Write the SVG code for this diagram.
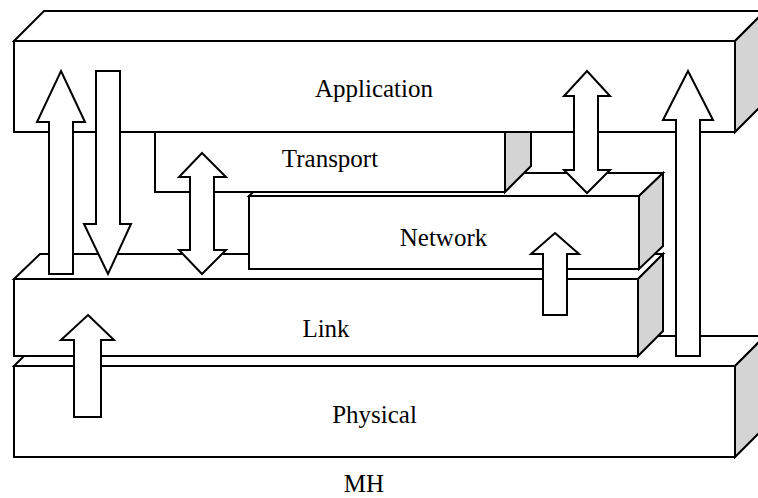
<svg xmlns="http://www.w3.org/2000/svg" width="758" height="498" viewBox="0 0 758 498">
<style>
.f{fill:#ffffff;stroke:#000000;stroke-width:2;stroke-linejoin:miter}
.s{fill:#d4d4d4;stroke:#000000;stroke-width:2;stroke-linejoin:miter}
.a{fill:#ffffff;stroke:#000000;stroke-width:2;stroke-linejoin:miter}
text{font-family:"Liberation Serif","Times New Roman",serif;font-size:25px;fill:#000000;text-anchor:middle}
</style>
<rect width="758" height="498" fill="#ffffff"/>
<g id="physical">
<polygon class="f" points="14,366 44,336 765,336 735,366"/>
<polygon class="s" points="735,366 765,336 765,427 735,457"/>
<rect class="f" x="14" y="366" width="721" height="91"/>
<text x="374.5" y="423">Physical</text>
</g>
<g id="link">
<polygon class="f" points="14,279 40,254 663,254 638,279"/>
<polygon class="s" points="638,279 663,254 663,331 638,356"/>
<rect class="f" x="14" y="279" width="624" height="77"/>
<text x="326" y="337">Link</text>
</g>
<g id="network">
<polygon class="f" points="249,196 273,173 663,173 639,196"/>
<polygon class="s" points="639,196 663,173 663,246 639,269"/>
<rect class="f" x="249" y="196" width="390" height="73"/>
<text x="443.5" y="246">Network</text>
</g>
<g id="transport">
<polygon class="f" points="155,132 181,106 531,106 505,132"/>
<polygon class="s" points="505,132 531,106 531,166 505,192"/>
<rect class="f" x="155" y="132" width="350" height="60"/>
<text x="330" y="167">Transport</text>
</g>
<g id="application">
<polygon class="f" points="14,41 44,11 765,11 735,41"/>
<polygon class="s" points="735,41 765,11 765,102 735,132"/>
<rect class="f" x="14" y="41" width="721" height="91"/>
<text x="374" y="97">Application</text>
</g>
<g id="connectors">
<polygon class="a" points="61,71 85,122 73,122 73,274 49,274 49,122 37,122"/>
<polygon class="a" points="96,71 120,71 120,224 131,224 108,274 84,224 96,224"/>
<polygon class="a" points="202,153 226,177 214,177 214,250 226,250 202,274 179,250 190,250 190,177 179,177"/>
<polygon class="a" points="587,71 610,96 598,96 598,170 610,170 587,193 564,170 574,170 574,96 564,96"/>
<polygon class="a" points="688,71 713,120 700,120 700,356 676,356 676,120 663,120"/>
<polygon class="a" points="555,233 579,254 567,254 567,315 543,315 543,254 531,254"/>
<polygon class="a" points="88,315 114,340 101,340 101,417 74,417 74,340 61,340"/>
</g>
<g id="caption">
<text x="364" y="492">MH</text>
</g>
</svg>
